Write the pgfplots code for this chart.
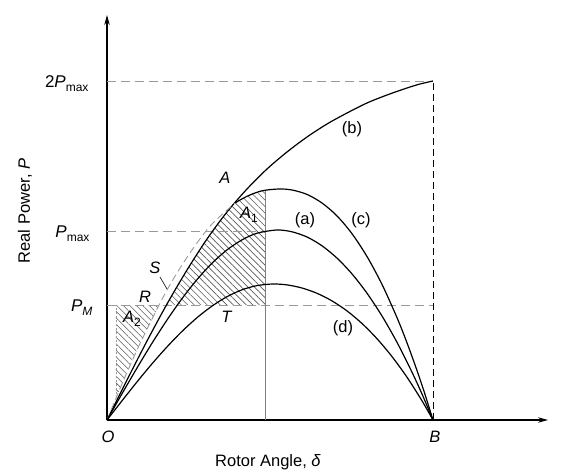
\documentclass[border=0pt]{standalone}
\usepackage{fontspec}
\setmainfont{Liberation Sans}
\usepackage{pgfplots}
\pgfplotsset{compat=1.18}
\usetikzlibrary{arrows.meta,patterns.meta}

\definecolor{refgray}{gray}{0.6}
\definecolor{hatchgray}{gray}{0.35}

% subscript in a smaller upright size, dropped below the baseline
\newcommand\sub[1]{\raisebox{-4bp}{\fontsize{12bp}{13bp}\selectfont #1}}

\begin{document}
\begin{tikzpicture}[font=\fontsize{16.5bp}{19bp}\selectfont]
\begin{axis}[
  x=1bp, y=1bp,
  xmin=0, xmax=441, ymin=0, ymax=405,
  axis lines=left,
  axis line style={line width=1.1bp, -{Stealth[length=10bp,width=5.5bp]}},
  xtick=\empty, ytick=\empty,
  clip=false,
  every axis plot/.append style={mark=none},
]
\coordinate (O) at (axis cs:0,0);

% hatched area A1 (deceleration area)
\addplot[draw=none, pattern={Lines[angle=-45,distance=4.6bp,line width=0.6bp]}, pattern color=hatchgray]
  coordinates {(59.4,115) (70,133) (80,150) (90,166) (100,181) (110,195) (120,208) (128,217)
               (134,220.5) (140,223.7) (147,227) (155,229.2) (158,229.8) (158,115)} -- cycle;
% hatched area A2 (acceleration area)
\addplot[draw=none, pattern={Lines[angle=-45,distance=4.6bp,line width=0.6bp]}, pattern color=hatchgray]
  coordinates {(9,21.6) (15,36) (30,70) (45,101) (52.3,115) (9,115)} -- cycle;

% reference levels
\addplot[refgray, line width=0.9bp, dash pattern=on 9bp off 5bp] coordinates {(0,339) (326,339)};
\addplot[refgray, line width=0.9bp, dash pattern=on 9bp off 5bp] coordinates {(0,189) (158,189)};
\addplot[refgray, line width=0.9bp, dash pattern=on 9bp off 5bp] coordinates {(0,115) (326,115)};
\addplot[black, line width=0.8bp, dash pattern=on 7bp off 4bp] coordinates {(326,0) (326,339)};
\addplot[gray, line width=0.9bp] coordinates {(158,0) (158,229.8)};
\addplot[refgray, line width=0.8bp, dash pattern=on 2bp off 2bp] coordinates {(9,21.6) (9,115)};

% curve (b)
\addplot[black, line width=1.2bp, smooth] coordinates {
  (0,0) (20,40) (40,79) (60,116) (80,150) (100,181) (120,208) (140,231) (160,251)
  (180,268) (200,283) (220,296) (240,307) (260,317) (280,325) (300,332) (313,336) (326,339)};
% curve (c): dashed up to A, solid beyond
\addplot[refgray, line width=0.9bp, dash pattern=on 7bp off 4bp, smooth] coordinates {
  (0,0) (15,36) (30,70) (45,101) (60,130) (75,155) (90,177) (105,196) (128,217)};
\addplot[black, line width=1.2bp, smooth] coordinates {
  (128,217) (140,223.7) (155,229.2) (172,231) (185,230.0) (200,225.6) (215,217.0)
  (230,204.1) (245,186.3) (260,163.5) (275,135.6) (290,102.4) (300,77.2) (310,49.5)
  (318,25.6) (326,0)};
% curve (a)
\addplot[black, line width=1.2bp, smooth] coordinates {
  (0,0) (15,26.3) (30,52.0) (45,76.8) (60,100.0) (75,121.4) (90,140.4) (105,156.8)
  (120,170.1) (135,180.1) (150,186.8) (170,190) (185,188.2) (200,183.0) (215,174.2)
  (230,161.9) (245,146.1) (260,126.8) (275,104.0) (290,77.7) (305,47.8) (315,26.0) (326,0)};
% curve (d)
\addplot[black, line width=1.2bp, smooth] coordinates {
  (0,0) (15,19.2) (30,38.1) (45,56.2) (60,73.1) (75,88.6) (90,102.3) (105,113.9)
  (120,123.3) (135,130.2) (150,134.4) (166,136) (180,135.1) (195,132.0) (210,126.7)
  (225,119.1) (240,109.1) (255,96.5) (270,81.3) (285,63.4) (300,42.8) (315,19.2) (326,0)};

% leader from S to the dashed curve
\addplot[black, line width=0.6bp] coordinates {(53,143) (60,131)};

% level labels
\node[anchor=base east, font=\fontsize{17bp}{19bp}\selectfont] at (axis cs:-15,333) {2\textit{P}\sub{max}};
\node[anchor=base east, font=\fontsize{17bp}{19bp}\selectfont] at (axis cs:-14,183) {\textit{P}\sub{max}};
\node[anchor=base east, font=\fontsize{17bp}{19bp}\selectfont] at (axis cs:-11,109) {\textit{P}\sub{\textit{M}}};

% point and area labels
\node at (axis cs:1,-17) {\textit{O}};
\node at (axis cs:328,-17) {\textit{B}};
\node at (axis cs:118,242) {\textit{A}};
\node at (axis cs:142,205) {\textit{A}\sub{1}};
\node at (axis cs:25,101) {\textit{A}\sub{2}};
\node at (axis cs:48,152) {\textit{S}};
\node at (axis cs:38,123) {\textit{R}};
\node at (axis cs:120,103) {\textit{T}};
\node at (axis cs:198,200) {(a)};
\node at (axis cs:245,291) {(b)};
\node at (axis cs:254,200) {(c)};
\node at (axis cs:236,92) {(d)};

% axis titles
\node at (axis cs:161,-42) {Rotor Angle, \textit{δ}};
\node[rotate=90] at (axis cs:-82,209) {Real Power, \textit{P}};
\end{axis}
\pgfresetboundingbox
\path[use as bounding box] (O) ++(-107bp,-55bp) rectangle ++(565bp,475bp);
\end{tikzpicture}
\end{document}
